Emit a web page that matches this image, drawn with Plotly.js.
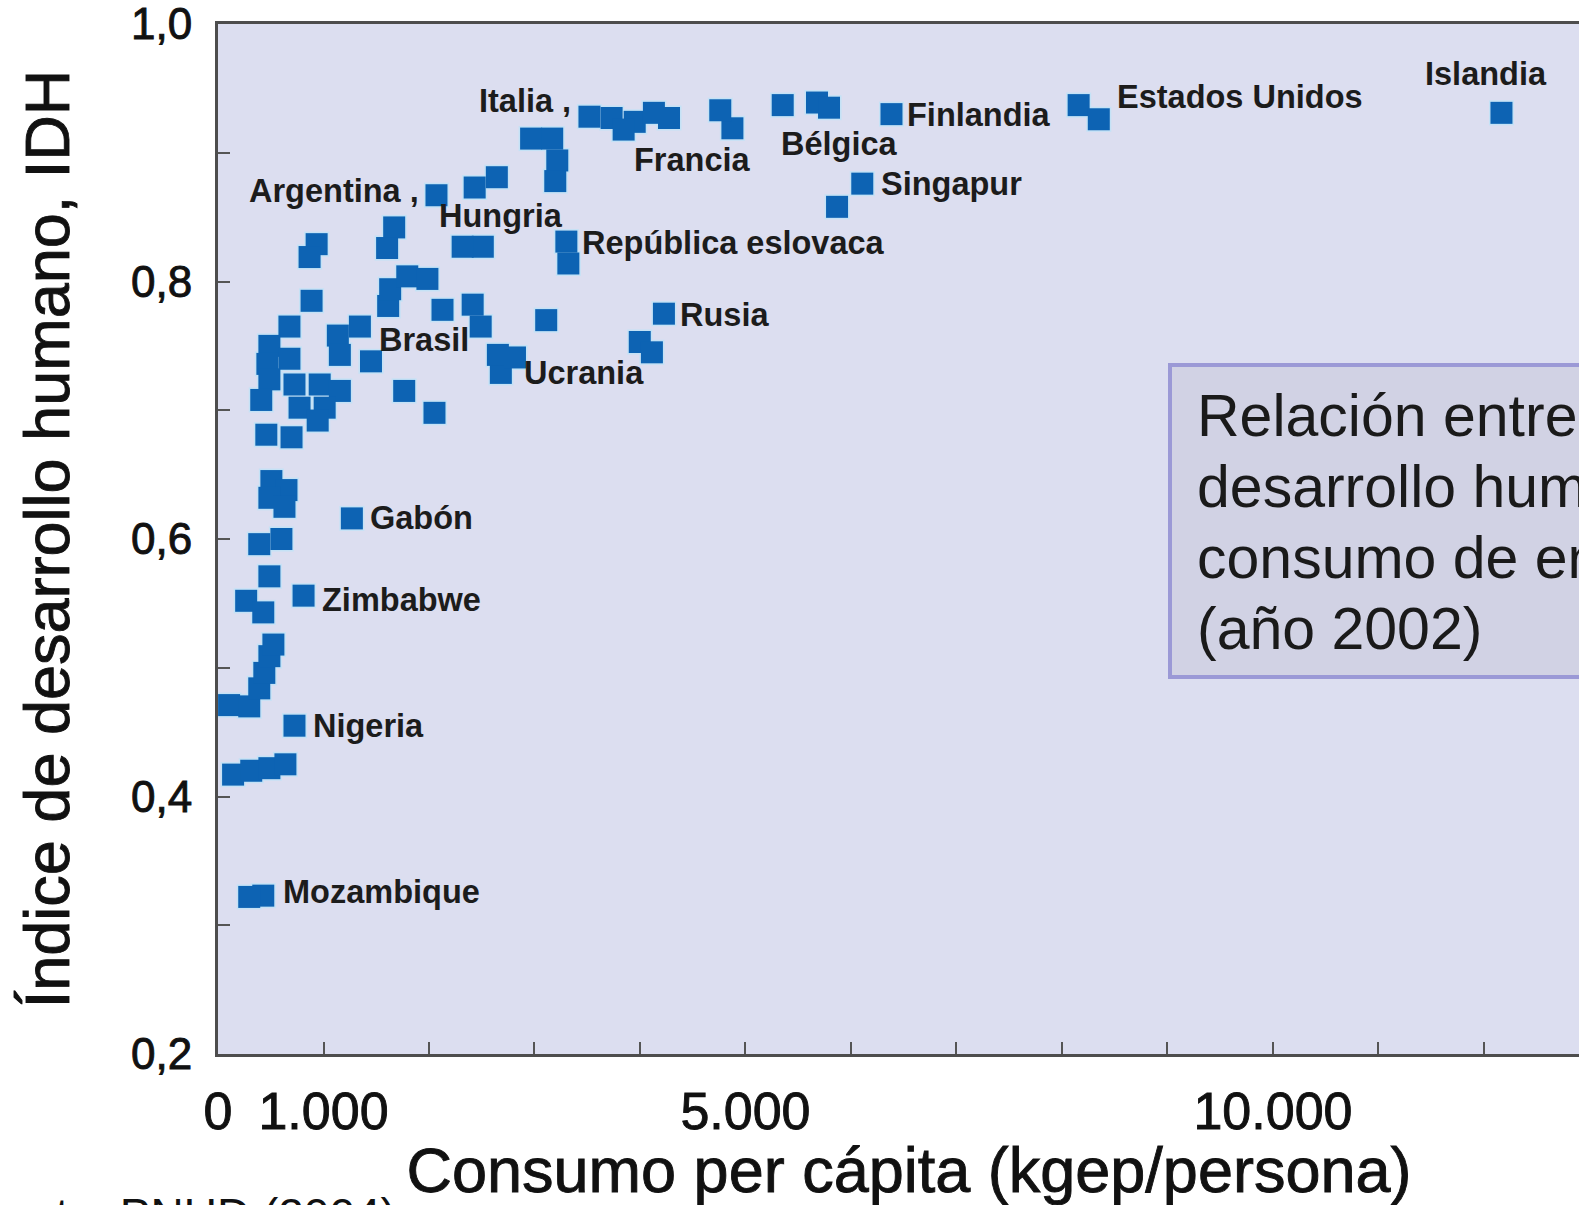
<!DOCTYPE html>
<html><head><meta charset="utf-8">
<script src="https://cdn.plot.ly/plotly-3.0.1.min.js"></script>
<style>html,body{margin:0;padding:0;overflow:hidden;background:#fff}#chart{width:1620px;height:1205px}
#chart .xtitle, #chart .ytitle, #chart .xtick text, #chart .ytick text{stroke:#111;stroke-width:0.9px}</style>
</head><body><div id="chart"></div>
<script>
// ---- data ----
const countryNames = ['Islandia','Estados Unidos','Finlandia','Bélgica','Singapur','Francia','Italia','Argentina','Hungria','República eslovaca','Rusia','Ucrania','Brasil','Gabón','Zimbabwe','Nigeria','Mozambique'];
const countryConsumo = [12166, 8158, 6384, 5678, 6107, 4876, 3521, 2071, 2510, 3302, 4227, 2681, 1345, 1269, 811, 725, 429];
const countryIDH     = [0.931, 0.937, 0.930, 0.939, 0.876, 0.919, 0.928, 0.867, 0.827, 0.831, 0.775, 0.729, 0.765, 0.616, 0.556, 0.455, 0.323];

const otherConsumo = [296, 143, 315, 487, 639, 105, 296, 391, 439, 487, 525, 267, 429, 487, 391, 601, 506, 649, 487, 630, 458, 697,
  887, 1613, 1632, 677, 487, 468, 677, 487, 1136, 1155, 1450, 725, 964, 1155, 773, 1011, 410, 1765, 2052, 945,
  935, 868, 1670, 1603, 1794, 1985, 2433, 2643, 2319, 3321, 2128, 2414, 2490, 3111, 2653, 2815, 3998, 4113,
  3731, 3950, 4132, 4275, 3845, 2968, 3168, 3216, 3197, 4761, 5353, 5792, 5868, 8349];
const otherIDH = [0.322, 0.417, 0.420, 0.422, 0.425, 0.471, 0.470, 0.484, 0.496, 0.509, 0.518, 0.552, 0.543, 0.571, 0.596, 0.600, 0.645, 0.638, 0.632, 0.625, 0.681, 0.679,
  0.785, 0.781, 0.794, 0.765, 0.750, 0.736, 0.740, 0.724, 0.758, 0.743, 0.738, 0.720, 0.720, 0.715, 0.702, 0.702, 0.708, 0.715, 0.698, 0.692,
  0.829, 0.819, 0.842, 0.826, 0.804, 0.802, 0.873, 0.881, 0.827, 0.814, 0.778, 0.782, 0.765, 0.770, 0.743, 0.741, 0.753, 0.745,
  0.927, 0.924, 0.931, 0.927, 0.918, 0.911, 0.911, 0.894, 0.878, 0.933, 0.937, 0.935, 0.858, 0.926];

const xTickVals = [0, 1000, 5000, 10000];
const xTickText = ['0', '1.000', '5.000', '10.000'];
const yTickVals = [0.2, 0.4, 0.6, 0.8, 1.0];
const yTickText = ['0,2', '0,4', '0,6', '0,8', '1,0'];
const xTitle = 'Consumo per cápita (kgep/persona)';
const yTitle = 'Índice de desarrollo humano, IDH';
const boxLines = ['Relación entre el índice de', 'desarrollo humano y el', 'consumo de energía', '(año 2002)'];
const sourceText = 'Fuente: PNUD (2004)';

// ---- label placement (pixels, style only) ----
const labelStyle = [
  {a:'center', dx:-15, dy:39},   // Islandia
  {a:'left', dx:36, dy:8},       // Estados Unidos
  {a:'left', dx:14, dy:-1},      // Finlandia
  {a:'center', dx:22, dy:-41},   // Bélgica
  {a:'left', dx:17, dy:0},       // Singapur
  {a:'center', dx:-40, dy:-32},  // Francia
  {a:'right', dx:-16, dy:16, s:' ,'}, // Italia
  {a:'right', dx:-15, dy:4, s:' ,'},  // Argentina
  {a:'center', dx:18, dy:31},    // Hungria
  {a:'left', dx:14, dy:-1},      // República eslovaca
  {a:'left', dx:14, dy:-1},      // Rusia
  {a:'left', dx:21, dy:0},       // Ucrania
  {a:'left', dx:17, dy:-13},     // Brasil
  {a:'left', dx:16, dy:0},       // Gabón
  {a:'left', dx:16, dy:-4},      // Zimbabwe
  {a:'left', dx:17, dy:0},       // Nigeria
  {a:'left', dx:18, dy:4}        // Mozambique
];

const FONT = 'Liberation Sans, Arial, sans-serif';
const allX = countryConsumo.concat(otherConsumo);
const allY = countryIDH.concat(otherIDH);

const traces = [
  {x: allX, y: allY, type:'scatter', mode:'markers', hoverinfo:'skip',
   marker:{symbol:'square', size:25, color:'#c4e2f6', line:{width:0}}},
  {x: allX, y: allY, type:'scatter', mode:'markers',
   marker:{symbol:'square', size:22, color:'#0d63b3', line:{width:0}}}
];

const annotations = countryNames.map((n, i) => ({
  x: countryConsumo[i], y: countryIDH[i], xref:'x', yref:'y',
  text: '<b>' + n + (labelStyle[i].s || '') + '</b>', showarrow:false,
  xanchor: labelStyle[i].a, yanchor:'middle',
  xshift: labelStyle[i].dx, yshift: labelStyle[i].dy,
  font:{family:FONT, size:32.5, color:'#1c1c1c'}
}));

const boxCenters = [416, 487, 558, 629];
boxLines.forEach((t, i) => annotations.push({
  xref:'paper', yref:'paper', x:(1195-218)/1382, y:(1054-boxCenters[i])/1030,
  xanchor:'left', yanchor:'middle', text:t, showarrow:false,
  font:{family:FONT, size:59, color:'#1a1a1a'}
}));
annotations.push({
  xref:'paper', yref:'paper', x:(398-218)/1382, y:(1054-1215)/1030,
  xanchor:'right', yanchor:'middle', text:sourceText, showarrow:false,
  font:{family:FONT, size:46, color:'#111'}
});

const layout = {
  width:1620, height:1205,
  margin:{l:218, r:20, t:24, b:151},
  paper_bgcolor:'#ffffff', plot_bgcolor:'#dcdef0',
  showlegend:false,
  font:{family:FONT, color:'#111'},
  xaxis:{range:[0, 13100], tickvals:xTickVals, ticktext:xTickText,
    ticks:'inside', ticklen:12, tickwidth:2, tickcolor:'#555',
    minor:{dtick:1000, tick0:0, ticks:'inside', ticklen:12, tickwidth:2, tickcolor:'#555', showgrid:false},
    showline:true, linewidth:3, linecolor:'#4d4d4d', mirror:true, showgrid:false, zeroline:false,
    tickfont:{family:FONT, size:52, color:'#111'}, ticklabelstandoff:10, ticklabeloverflow:'allow',
    title:{text:xTitle, font:{family:FONT, size:63, color:'#111'}, standoff:26}},
  yaxis:{range:[0.2, 1.0], tickvals:yTickVals, ticktext:yTickText,
    ticks:'inside', ticklen:12, tickwidth:2, tickcolor:'#555',
    minor:{dtick:0.1, tick0:0.2, ticks:'inside', ticklen:12, tickwidth:2, tickcolor:'#555', showgrid:false},
    showline:true, linewidth:3, linecolor:'#4d4d4d', mirror:true, showgrid:false, zeroline:false,
    tickfont:{family:FONT, size:44, color:'#111'}, ticklabelstandoff:14, ticklabeloverflow:'allow',
    title:{text:yTitle, font:{family:FONT, size:63, color:'#111'}, standoff:41}},
  shapes:[{type:'rect', xref:'paper', yref:'paper', x0:(1170-218)/1382, x1:1.25,
    y0:(1054-677)/1030, y1:(1054-365)/1030, fillcolor:'#d1d2e4', line:{color:'#9b99d6', width:4}, layer:'above'}],
  annotations: annotations
};

Plotly.newPlot('chart', traces, layout, {staticPlot:true, displayModeBar:false});
</script>
</body></html>
